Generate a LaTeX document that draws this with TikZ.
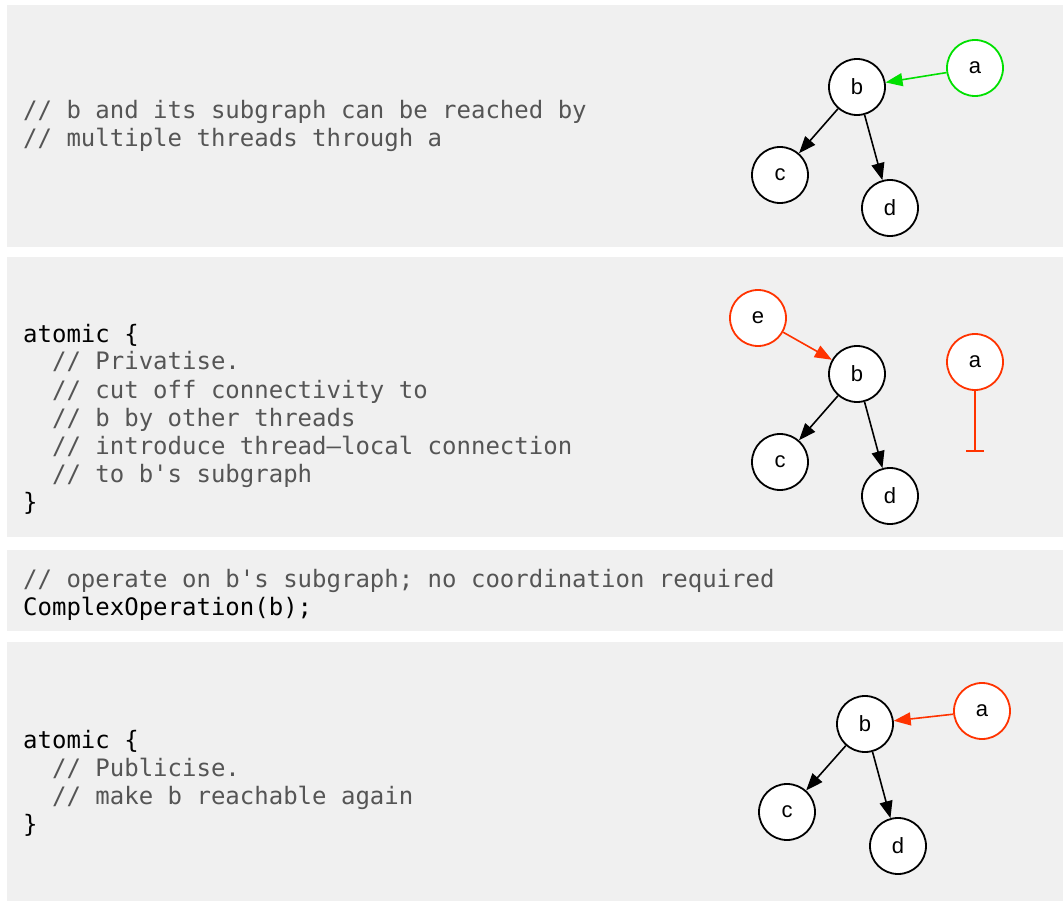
\documentclass[tikz,border=0pt]{standalone}
\usepackage{fontspec}
\setmainfont{Liberation Sans}
\setmonofont{DejaVu Sans Mono}
\usetikzlibrary{arrows.meta}
\definecolor{panel}{HTML}{F0F0F0}
\definecolor{comment}{HTML}{555555}
\definecolor{okgreen}{HTML}{00E000}
\definecolor{cutred}{HTML}{FF3300}
\tikzset{
  vertex/.style={circle,draw,line width=1.8pt,fill=white,minimum size=56pt,inner sep=0pt,font=\fontsize{22}{26}\selectfont},
  edge/.style={line width=1.6pt,-{Triangle[length=17pt,width=13pt]}},
  codeline/.style={anchor=base west,inner sep=0pt,font=\ttfamily\fontsize{24}{28}\selectfont},
  remark/.style={codeline,text=comment}
}
\begin{document}
\begin{tikzpicture}[x=1pt,y=-1pt]
	\fill [white] (0,0) rectangle (1063,901);
	\useasboundingbox (0,0) rectangle (1063,901);
	% panels
	\fill [panel] (7,5) rectangle (1063,247);
	\fill [panel] (7,257) rectangle (1063,537);
	\fill [panel] (7,550) rectangle (1063,631);
	\fill [panel] (7,642) rectangle (1063,901);

	% panel 1: shared
	\node [remark] (t1a) at (23,119) {// b and its subgraph can be reached by};
	\node [remark] (t1b) at (23,147) {// multiple threads through a};
	\node [vertex] (b1) at (857,87) {b};
	\node [vertex] (c1) at (780,175) {c};
	\node [vertex] (d1) at (890,208) {d};
	\node [vertex,draw=okgreen] (a1) at (975,68) {a};
	\draw [edge] (b1) -- (c1);
	\draw [edge] (b1) -- (d1);
	\draw [edge,okgreen] (a1) -- (b1);

	% panel 2: privatise
	\node [codeline] (t2a) at (23,342) {atomic \{};
	\node [remark] (t2b) at (23,370) {\phantom{xx}// Privatise.};
	\node [remark] (t2c) at (23,398) {\phantom{xx}// cut off connectivity to};
	\node [remark] (t2d) at (23,426) {\phantom{xx}// b by other threads};
	\node [remark] (t2e) at (23,454) {\phantom{xx}// introduce thread–local connection};
	\node [remark] (t2f) at (23,482) {\phantom{xx}// to b's subgraph};
	\node [codeline] (t2g) at (23,510) {\}};
	\node [vertex] (b2) at (857,374) {b};
	\node [vertex] (c2) at (780,462) {c};
	\node [vertex] (d2) at (890,496) {d};
	\node [vertex,draw=cutred] (e2) at (758,318) {e};
	\node [vertex,draw=cutred] (a2) at (975,362) {a};
	\coordinate (cut) at (975,452);
	\draw [edge] (b2) -- (c2);
	\draw [edge] (b2) -- (d2);
	\draw [edge,cutred] (e2) -- (b2);
	\draw [line width=1.6pt,cutred,-{Bar[width=18pt,line width=1.6pt]}] (a2) -- (cut);

	% panel 3: operate
	\node [remark] (t3a) at (23,587) {// operate on b's subgraph; no coordination required};
	\node [codeline] (t3b) at (23,615) {ComplexOperation(b);};

	% panel 4: publicise
	\node [codeline] (t4a) at (23,748) {atomic \{};
	\node [remark] (t4b) at (23,776) {\phantom{xx}// Publicise.};
	\node [remark] (t4c) at (23,804) {\phantom{xx}// make b reachable again};
	\node [codeline] (t4d) at (23,832) {\}};
	\node [vertex] (b4) at (865,724) {b};
	\node [vertex] (c4) at (787,812) {c};
	\node [vertex] (d4) at (898,846) {d};
	\node [vertex,draw=cutred] (a4) at (982,711) {a};
	\draw [edge] (b4) -- (c4);
	\draw [edge] (b4) -- (d4);
	\draw [edge,cutred] (a4) -- (b4);
\end{tikzpicture}
\end{document}
